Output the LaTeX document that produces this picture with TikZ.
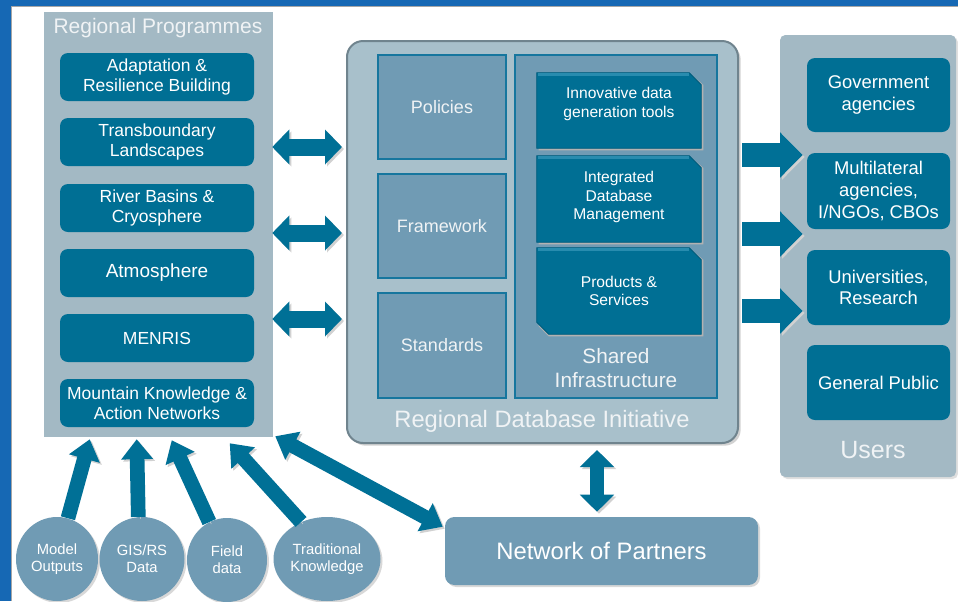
\documentclass[tikz,border=0pt]{standalone}
\usepackage{fontspec}
\setmainfont{Liberation Sans}
\usetikzlibrary{arrows.meta,shadows,shapes.geometric,calc}
\definecolor{bandblue}{RGB}{22,104,180}
\definecolor{panelc}{RGB}{163,185,196}
\definecolor{darkc}{RGB}{0,111,148}
\definecolor{darkedge}{RGB}{0,92,124}
\definecolor{bevelc}{RGB}{40,140,175}
\definecolor{midc}{RGB}{112,155,180}
\definecolor{rdifill}{RGB}{168,192,203}
\definecolor{rdiborder}{RGB}{112,132,142}
\definecolor{tealc}{RGB}{22,118,158}
\definecolor{arrowc}{RGB}{0,112,150}
\definecolor{txtlight}{RGB}{240,243,245}
\newcommand\pxfont[1]{\fontsize{\fpeval{#1*0.75}}{\fpeval{#1*0.75*1.17}}\selectfont}
\newcommand\chamferbox[1]{%
  \fill[black!30] ($(#1.south west)+(2,2)$) -- ($(#1.north west)+(2,2)$) -- ($(#1.north east)+(-10,2)$) -- ($(#1.north east)+(2,12)$) -- ($(#1.south east)+(2,2)$) -- cycle;
  \fill[darkc,draw=darkedge,line width=0.6pt] (#1.south west) -- (#1.north west) -- ($(#1.north east)+(-12,0)$) -- ($(#1.north east)+(0,12)$) -- (#1.south east) -- cycle;
  \draw[bevelc,line width=2pt] ($(#1.north west)+(1.5,2)$) -- ($(#1.north east)+(-12.5,2)$);}
\tikzset{
  sz/.style 2 args={minimum width=#1*0.75pt, minimum height=#2*0.75pt, inner sep=0pt},
  panelbox/.style={fill=panelc, draw=none},
  paneltitle/.style={text=txtlight, align=center, inner sep=0pt},
  progbox/.style={fill=darkc, rounded corners=6pt, text=white, align=center, font=\pxfont{17.5}},
  midbox/.style={fill=midc, draw=tealc, line width=1pt, text=txtlight, align=center, font=\pxfont{18}},
  innertext/.style={text=white, align=center, inner sep=0pt, font=\pxfont{15.6}},
  userbox/.style={fill=darkc, rounded corners=6pt, text=white, align=center, font=\pxfont{18.4}},
  srcbox/.style={ellipse, fill=midc, text=white, align=center, font=\pxfont{14.8}, drop shadow={opacity=0.3, shadow xshift=1.5pt, shadow yshift=-1.5pt}},
  ashadow/.style={preaction={draw=black!18, transform canvas={shift={(1.5pt,-1.5pt)}}}},
  fatup/.style={draw=arrowc, line width=11pt, -{Triangle[width=23pt,length=15pt]}, ashadow},
  fatboth/.style={draw=arrowc, line width=11pt, {Triangle[width=23pt,length=15pt]}-{Triangle[width=23pt,length=15pt]}, ashadow},
  lrarrow/.style={draw=arrowc, line width=12.75pt, {Triangle[width=25.5pt,length=12.75pt]}-{Triangle[width=25.5pt,length=12.75pt]}, ashadow},
  rarrow/.style={draw=arrowc, line width=18pt, -{Triangle[width=33pt,length=17pt]}, ashadow},
  varrow/.style={draw=arrowc, line width=10.5pt, {Triangle[width=25pt,length=12.75pt]}-{Triangle[width=25pt,length=12.75pt]}, ashadow},
}
\begin{document}
\begin{tikzpicture}[x=0.75pt,y=-0.75pt]
\useasboundingbox (0,0) rectangle (958,601);
\fill[white] (0,0) rectangle (958,601);
% frame bands
\fill[bandblue] (0,0) rectangle (958,6);
\fill[bandblue] (0,0) rectangle (11,601);
\draw[black!35, line width=0.75pt] (11.5,601) -- (11.5,6.5) -- (958,6.5);

% Regional Programmes panel
\node[panelbox, sz={229}{425}] (rp) at (158.5,224.5) {};
\node[paneltitle, font=\pxfont{21}] (rpt) at (158,28) {Regional Programmes};
\node[progbox, sz={194}{48}] (p1) at (157,77) {Adaptation \&\\Resilience Building};
\node[progbox, sz={194}{48}] (p2) at (157,142) {Transboundary\\Landscapes};
\node[progbox, sz={194}{48}] (p3) at (157,208) {River Basins \&\\Cryosphere};
\node[progbox, sz={194}{48}, font=\pxfont{19}] (p4) at (157,273) {Atmosphere};
\node[progbox, sz={194}{48}] (p5) at (157,338) {MENRIS};
\node[progbox, sz={194}{48}] (p6) at (157,403) {Mountain Knowledge \&\\Action Networks};

% Regional Database Initiative
\node[fill=rdifill, draw=rdiborder, line width=1.5pt, rounded corners=12pt, sz={391}{402},
      drop shadow={opacity=0.35, shadow xshift=2pt, shadow yshift=-2pt}] (rdi) at (542.5,242) {};
\node[paneltitle, font=\pxfont{23.7}] (rdit) at (542,421) {Regional Database Initiative};
\node[midbox, sz={128}{104}] (pol) at (442,107) {Policies};
\node[midbox, sz={128}{104}] (fw) at (442,226) {Framework};
\node[midbox, sz={128}{105}] (std) at (442,345.5) {Standards};
\node[midbox, sz={202}{343}] (si) at (616,226.5) {};
\node[paneltitle, font=\pxfont{20.8}] (sit) at (616,368) {Shared\\Infrastructure};

\node[sz={164}{75}] (idg) at (619,110.5) {};
\chamferbox{idg}
\node[innertext] (idgt) at (619,104) {Innovative data\\generation tools};
\node[sz={164}{86}] (idm) at (619,199) {};
\chamferbox{idm}
\node[innertext] (idmt) at (619,197) {Integrated\\Database\\Management};
\node[sz={164}{86}] (ps) at (619,291) {};
\fill[black!30] ($(ps.south west)+(12,2)$) -- ($(ps.south west)+(2,-8)$) -- ($(ps.north west)+(2,2)$) -- ($(ps.north east)+(-10,2)$) -- ($(ps.north east)+(2,12)$) -- ($(ps.south east)+(2,2)$) -- cycle;
\fill[darkc,draw=darkedge,line width=0.6pt] ($(ps.south west)+(12,0)$) -- ($(ps.south west)+(0,-12)$) -- (ps.north west) -- ($(ps.north east)+(-12,0)$) -- ($(ps.north east)+(0,12)$) -- (ps.south east) -- cycle;
\draw[bevelc,line width=2pt] ($(ps.north west)+(1.5,2)$) -- ($(ps.north east)+(-12.5,2)$);
\node[innertext] (pst) at (619,291) {Products \&\\Services};

% Users
\node[panelbox, rounded corners=4pt, sz={176}{442},
      drop shadow={opacity=0.25, shadow xshift=1.5pt, shadow yshift=-1.5pt}] (up) at (868,256) {};
\node[paneltitle, font=\pxfont{25}] (upt) at (873,450) {Users};
\node[userbox, sz={143}{74}] (u1) at (878.5,95) {Government\\agencies};
\node[userbox, sz={143}{76}] (u2) at (878.5,191) {Multilateral\\agencies,\\I/NGOs, CBOs};
\node[userbox, sz={143}{75}] (u3) at (878.5,287.5) {Universities,\\Research};
\node[userbox, sz={143}{75}] (u4) at (878.5,382.5) {General Public};

% Network of Partners
\node[fill=midc, rounded corners=7pt, sz={313}{68}, text=white, font=\pxfont{23.8},
      drop shadow={opacity=0.3, shadow xshift=1.5pt, shadow yshift=-1.5pt}] (nop) at (601.5,551) {Network of Partners};

% data sources
\node[srcbox, sz={82}{84}] (mo) at (57,559) {Model\\Outputs};
\node[srcbox, sz={85}{84}] (gis) at (142,559) {GIS/RS\\Data};
\node[srcbox, sz={80}{84}] (fd) at (227,560) {Field\\data};
\node[srcbox, sz={107}{84}] (tk) at (327,559) {Traditional\\Knowledge};

% arrows
\draw[lrarrow] ($(rp.east |- 0,147)+(-1,0)$) -- ($(rdi.west |- 0,147)+(-4,0)$);
\draw[lrarrow] ($(rp.east |- 0,233)+(-1,0)$) -- ($(rdi.west |- 0,233)+(-4,0)$);
\draw[lrarrow] ($(rp.east |- 0,319)+(-1,0)$) -- ($(rdi.west |- 0,319)+(-4,0)$);

\draw[rarrow] ($(rdi.east |- 0,155)+(3,0)$) -- ($(u1.west |- 0,155)+(-4,0)$);
\draw[rarrow] ($(rdi.east |- 0,234)+(3,0)$) -- ($(u1.west |- 0,234)+(-4,0)$);
\draw[rarrow] ($(rdi.east |- 0,311)+(3,0)$) -- ($(u1.west |- 0,311)+(-4,0)$);

\draw[varrow] ($(rdi.south -| nop.north)+(-4.5,6)$) -- ($(nop.north)+(-4.5,-5)$);

\draw[fatup] (mo.75) -- ($(rp.south west)+(46,2)$);
\draw[fatup] (gis.95) -- ($(rp.south west)+(93,2)$);
\draw[fatup] (fd.115) -- ($(rp.south west)+(128,3)$);
\draw[fatup] (tk.125) -- ($(rp.south west)+(186,6)$);
\draw[fatboth] ($(rp.south east)+(2,-1)$) -- ($(nop.north west)+(-2,10)$);
\end{tikzpicture}
\end{document}
